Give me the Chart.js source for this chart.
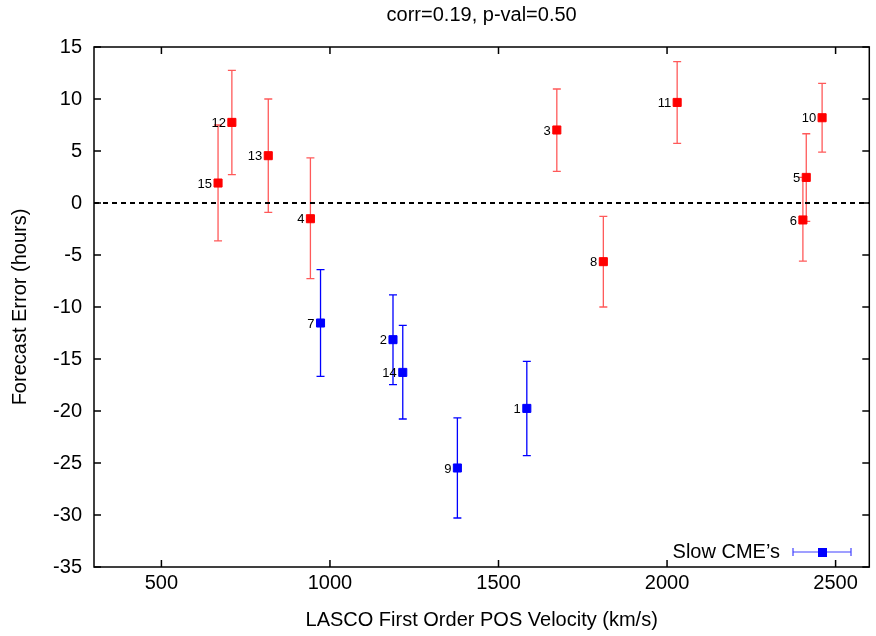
<!DOCTYPE html>
<html>
<head>
<meta charset="utf-8">
<script src="https://cdn.jsdelivr.net/npm/chart.js@4.4.0/dist/chart.umd.min.js"></script>
<style>
  html, body { margin: 0; padding: 0; background: #fff; }
  #wrap { width: 876px; height: 636px; }
</style>
</head>
<body>
<div id="wrap"><canvas id="errChart"></canvas></div>
<script>
// fast CMEs (red, no legend entry)
const redIds  = [15, 12, 13, 4, 3, 11, 8, 10, 5, 6];
const redVel  = [668, 709, 817, 942, 1673, 2030, 1811, 2460, 2413, 2403];
const redErr  = [1.92, 7.75, 4.55, -1.51, 7.02, 9.67, -5.64, 8.2, 2.46, -1.63];
const redLow  = [-3.65, 2.72, -0.9, -7.28, 3.04, 5.73, -10.0, 4.9, -1.77, -5.58];
const redHigh = [7.5, 12.75, 10.0, 4.33, 10.96, 13.59, -1.29, 11.5, 6.66, 2.46];

// slow CMEs (blue)
const blueIds  = [7, 2, 14, 9, 1];
const blueVel  = [972, 1187, 1216, 1378, 1584];
const blueErr  = [-11.54, -13.14, -16.29, -25.48, -19.75];
const blueLow  = [-16.67, -17.47, -20.77, -30.29, -24.3];
const blueHigh = [-6.41, -8.83, -11.77, -20.67, -15.23];

const xTicks = [500, 1000, 1500, 2000, 2500];
const yTicks = [15, 10, 5, 0, -5, -10, -15, -20, -25, -30, -35];

const FONT = '"Liberation Sans", Arial, Helvetica, sans-serif';
const RED = '#ff0000';
const RED_BAR = 'rgba(255,0,0,0.65)';
const BLUE = '#0000ff';
const plotTitle = 'corr=0.19, p-val=0.50';

function pts(xs, ys) {
    return xs.map((v, i) => ({x: v, y: ys[i]}));
}

// error bars + point numbers
const errorBars = {
    id: 'errorBars',
    beforeDatasetsDraw(chart) {
        const {ctx, scales: {x, y}} = chart;
        const groups = [
            [redVel, redLow, redHigh, RED_BAR],
            [blueVel, blueLow, blueHigh, BLUE]
        ];
        ctx.save();
        ctx.lineWidth = 1.3;
        groups.forEach(([vx, lo, hi, col]) => {
            ctx.strokeStyle = col;
            vx.forEach((v, i) => {
                const px = x.getPixelForValue(v);
                const y1 = y.getPixelForValue(lo[i]);
                const y2 = y.getPixelForValue(hi[i]);
                ctx.beginPath();
                ctx.moveTo(px, y1); ctx.lineTo(px, y2);
                ctx.moveTo(px - 4, y1); ctx.lineTo(px + 4, y1);
                ctx.moveTo(px - 4, y2); ctx.lineTo(px + 4, y2);
                ctx.stroke();
            });
        });
        ctx.restore();
    },
    afterDatasetsDraw(chart) {
        const {ctx, scales: {x, y}} = chart;
        ctx.save();
        ctx.font = '13px ' + FONT;
        ctx.fillStyle = '#000';
        ctx.textAlign = 'right';
        ctx.textBaseline = 'middle';
        [[redIds, redVel, redErr], [blueIds, blueVel, blueErr]].forEach(([ids, vx, vy]) => {
            ids.forEach((id, i) => {
                ctx.fillText(String(id), x.getPixelForValue(vx[i]) - 6, y.getPixelForValue(vy[i]) + 1);
            });
        });
        ctx.restore();
    }
};

// gnuplot-like frame, inward ticks, title and the key
const frame = {
    id: 'frame',
    afterDraw(chart) {
        const {ctx, chartArea: a, scales: {x, y}} = chart;
        ctx.save();
        ctx.strokeStyle = '#000';
        ctx.lineWidth = 1.5;
        ctx.strokeRect(a.left, a.top, a.right - a.left, a.bottom - a.top);
        ctx.beginPath();
        xTicks.forEach(v => {
            const px = x.getPixelForValue(v);
            ctx.moveTo(px, a.bottom); ctx.lineTo(px, a.bottom - 7);
            ctx.moveTo(px, a.top); ctx.lineTo(px, a.top + 7);
        });
        yTicks.forEach(v => {
            const py = y.getPixelForValue(v);
            ctx.moveTo(a.left, py); ctx.lineTo(a.left + 7, py);
            ctx.moveTo(a.right, py); ctx.lineTo(a.right - 7, py);
        });
        ctx.stroke();

        ctx.font = '20px ' + FONT;
        ctx.fillStyle = '#000';
        ctx.textAlign = 'center';
        ctx.textBaseline = 'middle';
        ctx.fillText(plotTitle, (a.left + a.right) / 2, 15);

        // key: Slow CME's
        const ky = 552;
        ctx.textAlign = 'right';
        ctx.fillText('Slow CME\u2019s', 780, ky);
        ctx.strokeStyle = 'rgba(0,0,255,0.75)';
        ctx.lineWidth = 1.2;
        ctx.beginPath();
        ctx.moveTo(793, ky); ctx.lineTo(851, ky);
        ctx.moveTo(793, ky - 4); ctx.lineTo(793, ky + 4);
        ctx.moveTo(851, ky - 4); ctx.lineTo(851, ky + 4);
        ctx.stroke();
        ctx.fillStyle = BLUE;
        ctx.fillRect(818, ky - 4, 9, 9);
        ctx.restore();
    }
};

const config = {
    type: 'scatter',
    data: {
        datasets: [
            {
                label: 'zero',
                data: [{x: 300, y: 0}, {x: 2600, y: 0}],
                showLine: true,
                borderColor: '#000',
                borderWidth: 2,
                borderDash: [5, 4],
                pointRadius: 0
            },
            {
                label: 'Fast CMEs',
                data: pts(redVel, redErr),
                backgroundColor: RED,
                borderColor: RED,
                borderWidth: 1,
                pointStyle: 'rect',
                pointRadius: 5.7
            },
            {
                label: 'Slow CME\u2019s',
                data: pts(blueVel, blueErr),
                backgroundColor: BLUE,
                borderColor: BLUE,
                borderWidth: 1,
                pointStyle: 'rect',
                pointRadius: 5.7
            }
        ]
    },
    options: {
        responsive: false,
        animation: false,
        layout: {padding: {left: 0, right: 4, top: 47, bottom: 0}},
        plugins: {
            legend: {display: false},
            tooltip: {enabled: false},
            title: {display: false}
        },
        scales: {
            x: {
                type: 'linear',
                min: 300,
                max: 2600,
                afterBuildTicks: s => { s.ticks = xTicks.map(v => ({value: v})); },
                afterFit: s => { s.height = 69; },
                grid: {display: false, drawTicks: false},
                border: {display: false},
                ticks: {color: '#000', font: {family: FONT, size: 20}, padding: 4, maxRotation: 0,
                        callback: v => String(v)},
                title: {
                    display: true,
                    text: 'LASCO First Order POS Velocity (km/s)',
                    color: '#000',
                    font: {family: FONT, size: 20},
                    padding: {top: 0, bottom: 4}
                }
            },
            y: {
                type: 'linear',
                min: -35,
                max: 15,
                afterBuildTicks: s => { s.ticks = yTicks.map(v => ({value: v})); },
                afterFit: s => { s.width = 94; },
                grid: {display: false, drawTicks: false},
                border: {display: false},
                ticks: {color: '#000', font: {family: FONT, size: 20}, padding: 12,
                        callback: v => String(v)},
                title: {
                    display: true,
                    text: 'Forecast Error (hours)',
                    color: '#000',
                    font: {family: FONT, size: 20},
                    padding: {top: 8, bottom: 0}
                }
            }
        }
    },
    plugins: [errorBars, frame]
};

const canvas = document.getElementById('errChart');
canvas.width = 876;
canvas.height = 636;
new Chart(canvas, config);
</script>
</body>
</html>
